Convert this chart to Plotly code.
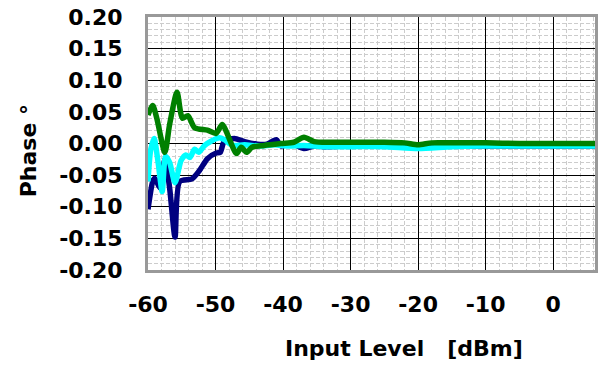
import plotly.graph_objects as go

# Input level [dBm] and phase [deg] for three traces
navy_x = [-60.0, -59.3, -59.0, -58.2, -57.5, -56.8, -56.0, -55.3, -53.5, -52.4, -51.2, -49.9, -49.3,
          -48.7, -47.2, -45.7, -43.8, -42.4, -41.0, -40.3, -38.8, -36.9, -35.4, -34.0, -30.0, -25.0,
          -20.0, -15.0, -10.0, -5.0, 0.0, 6.2]
navy_y = [-0.104, -0.060, -0.055, -0.070, -0.025, -0.070, -0.148, -0.060, -0.056, -0.043, -0.024,
          -0.015, -0.014, 0.004, 0.008, 0.003, -0.001, -0.001, 0.006, -0.004, 0.000, -0.008, -0.004,
          -0.005, -0.004, -0.004, -0.006, -0.004, -0.004, -0.004, -0.004, -0.004]

cyan_x = [-60.0, -59.6, -59.1, -58.5, -57.9, -57.4, -56.8, -56.0, -55.1, -54.4, -53.8, -53.1, -52.5,
          -51.6, -50.6, -49.4, -48.7, -47.5, -45.7, -43.5, -41.3, -39.1, -36.9, -34.0, -30.0, -25.0,
          -20.0, -15.0, -10.0, -5.0, 0.0, 6.2]
cyan_y = [-0.060, -0.010, 0.008, -0.030, -0.076, -0.020, -0.030, -0.062, -0.027, -0.018, -0.022,
          -0.009, -0.014, -0.003, 0.004, 0.009, 0.006, -0.003, -0.002, -0.004, -0.002, -0.004, -0.003,
          -0.005, -0.005, -0.005, -0.008, -0.005, -0.004, -0.004, -0.004, -0.004]

green_x = [-60.0, -59.3, -58.7, -57.5, -56.8, -55.7, -54.9, -54.1, -53.1, -51.2, -49.9, -49.0, -46.9,
           -46.2, -45.4, -44.6, -42.8, -40.3, -38.4, -36.9, -35.4, -33.0, -30.0, -25.0, -22.0, -20.0,
           -18.0, -15.0, -10.0, -5.0, 0.0, 6.2]
green_y = [0.045, 0.060, 0.040, -0.014, 0.030, 0.081, 0.040, 0.044, 0.025, 0.021, 0.016, 0.030,
           -0.016, -0.006, -0.014, -0.006, -0.003, 0.000, 0.002, 0.010, 0.003, 0.002, 0.002, 0.002,
           0.001, -0.002, 0.001, 0.001, 0.001, 0.000, 0.000, 0.000]

x_ticks = [-60, -50, -40, -30, -20, -10, 0]
y_ticks = [0.20, 0.15, 0.10, 0.05, 0.00, -0.05, -0.10, -0.15, -0.20]
y_labels = ["%.2f" % v for v in y_ticks]

FONT = dict(family="DejaVu Sans", size=22, color="black", weight="bold")

fig = go.Figure()
for xs, ys, col in [(navy_x, navy_y, "#000080"), (cyan_x, cyan_y, "#00FFFF"), (green_x, green_y, "#008000")]:
    fig.add_trace(go.Scatter(x=xs, y=ys, mode="lines",
                             line=dict(color=col, width=5.5, shape="spline", smoothing=0.7),
                             showlegend=False, hoverinfo="skip"))

fig.update_layout(
    width=599, height=366,
    margin=dict(l=148, r=1, t=17, b=96),
    paper_bgcolor="white", plot_bgcolor="white",
    font=FONT,
    xaxis=dict(range=[-60, 6.2], tickvals=x_ticks, ticktext=[str(v) for v in x_ticks],
               showgrid=True, gridcolor="black", gridwidth=1,
               minor=dict(tick0=-60, dtick=2, showgrid=True, gridcolor="#cccccc", griddash="4px,2px", gridwidth=1),
               showline=True, linecolor="#999999", linewidth=3, mirror=True,
               ticks="", ticklabelstandoff=13, zeroline=False, tickfont=FONT),
    yaxis=dict(range=[-0.20, 0.20], tickvals=y_ticks, ticktext=y_labels,
               showgrid=True, gridcolor="black", gridwidth=1,
               minor=dict(tick0=0, dtick=0.01, showgrid=True, gridcolor="#cccccc", griddash="4px,2px", gridwidth=1),
               showline=True, linecolor="#999999", linewidth=3, mirror=True,
               ticks="", ticklabelstandoff=18, zeroline=False, tickfont=FONT),
    annotations=[
        dict(text="Input Level   [dBm]", xref="paper", yref="paper", x=0.573, y=-0.31,
             xanchor="center", yanchor="middle", showarrow=False, font=FONT),
        dict(text="Phase °", xref="paper", yref="paper", x=-0.268, y=0.47, textangle=-90,
             xanchor="center", yanchor="middle", showarrow=False, font=FONT),
    ],
)

fig.write_html("out.html")
